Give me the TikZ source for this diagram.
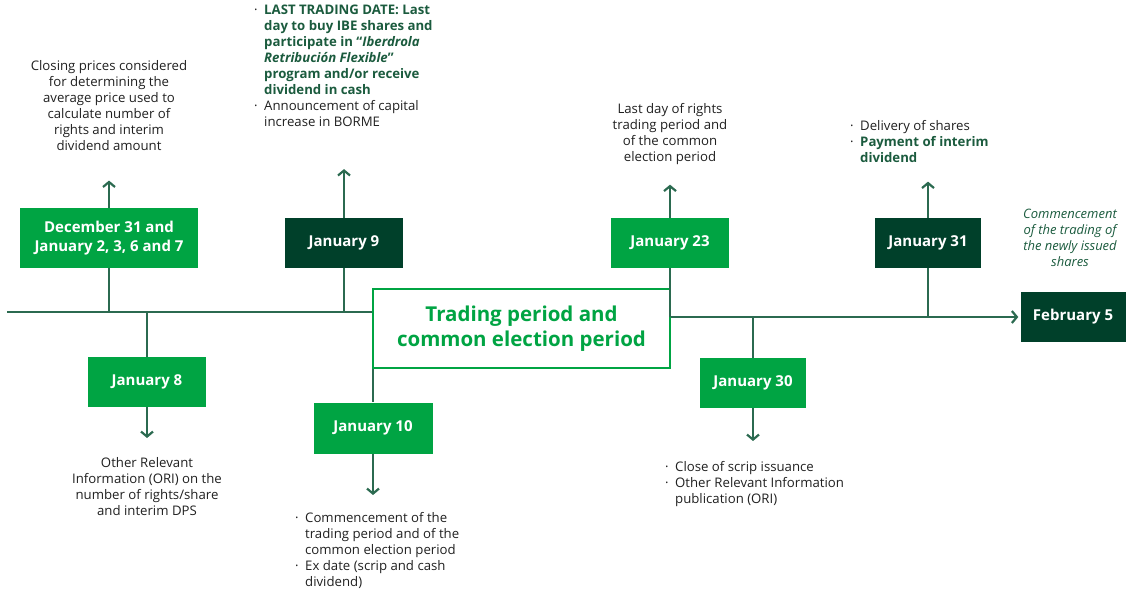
\documentclass[tikz,border=0pt]{standalone}
\usepackage{fontspec}
\setmainfont{Open Sans}
\usepackage{tikz}
\usetikzlibrary{arrows.meta}
\definecolor{ibGreen}{HTML}{00A443}
\definecolor{ibDark}{HTML}{00402A}
\definecolor{ibLine}{HTML}{2B6A50}
\definecolor{ibText}{HTML}{202020}
\definecolor{ibNote}{HTML}{1B5B3E}
\newcommand\bulletmark{\makebox[10pt][l]{\textperiodcentered}}
\newcommand\bulletgap{\hspace*{10pt}}
\newcommand\strongline[1]{{\color{ibNote}\bfseries #1}}

\begin{document}
\begin{tikzpicture}[
  x=1pt,
  y=-1pt,
  datebox/.style={
    fill=ibGreen,
    text=white,
    font=\fontsize{15}{19}\selectfont\bfseries,
    align=center,
    inner sep=0pt,
    minimum height=50pt,
  },
  darkbox/.style={
    datebox,
    fill=ibDark,
  },
  periodbox/.style={
    draw=ibGreen,
    line width=2.6pt,
    fill=white,
    text=ibGreen,
    font=\fontsize{20.5}{25}\selectfont\bfseries,
    align=center,
    minimum width=297pt,
    minimum height=79pt,
  },
  notetext/.style={
    font=\fontsize{13.2}{16}\selectfont,
    text=ibText,
    align=center,
    inner sep=0pt,
    anchor=north,
  },
  listtext/.style={
    notetext,
    align=left,
    anchor=north west,
  },
  branch/.style={
    draw=ibLine,
    line width=1.4pt,
  },
  outarrow/.style={
    branch,
    -{Straight Barb[length=5pt,width=12pt,line width=2.2pt]},
  }
]
\useasboundingbox (0,0) rectangle (1132,593);

% dates
\node[datebox,minimum width=178pt,minimum height=60pt] (dec) at (109,238)
  {December 31 and\\January 2, 3, 6 and 7};
\node[darkbox,minimum width=118pt] (jan9) at (344,243) {January 9};
\node[datebox,minimum width=118pt] (jan23) at (670,243) {January 23};
\node[darkbox,minimum width=106pt] (jan31) at (928,243) {January 31};
\node[darkbox,minimum width=105pt] (feb5) at (1073,317) {February 5};
\node[datebox,minimum width=118pt] (jan8) at (147,382) {January 8};
\node[datebox,minimum width=119pt,minimum height=51pt] (jan10) at (373,428) {January 10};
\node[datebox,minimum width=106pt] (jan30) at (753,383) {January 30};
\node[periodbox] (period) at (521.5,328.5)
  {Trading period and\\common election period};

% notes
\node[notetext] (decnote) at (109,60)
  {Closing prices considered\\for determining the\\average price used to\\calculate number of\\rights and interim\\dividend amount};
\node[listtext] (jan9note) at (254,5)
  {\bulletmark\strongline{LAST TRADING DATE: Last}\\
   \bulletgap\strongline{day to buy IBE shares and}\\
   \bulletgap\strongline{participate in “\textit{Iberdrola}}\\
   \bulletgap\strongline{\textit{Retribución Flexible}”}\\
   \bulletgap\strongline{program and/or receive}\\
   \bulletgap\strongline{dividend in cash}\\
   \bulletmark Announcement of capital\\
   \bulletgap increase in BORME};
\node[notetext] (jan23note) at (670,103)
  {Last day of rights\\trading period and\\of the common\\election period};
\node[listtext] (jan31note) at (850,120)
  {\bulletmark Delivery of shares\\
   \bulletmark\strongline{Payment of interim}\\
   \bulletgap\strongline{dividend}};
\node[notetext,text=ibNote,font=\fontsize{13}{16}\selectfont\itshape] (feb5note) at (1070,209)
  {Commencement\\of the trading of\\the newly issued\\shares};
\node[notetext] (jan8note) at (147,457)
  {Other Relevant\\Information (ORI) on the\\number of rights/share\\and interim DPS};
\node[listtext] (jan10note) at (295,512)
  {\bulletmark Commencement of the\\
   \bulletgap trading period and of the\\
   \bulletgap common election period\\
   \bulletmark Ex date (scrip and cash\\
   \bulletgap dividend)};
\node[listtext] (jan30note) at (665,461)
  {\bulletmark Close of scrip issuance\\
   \bulletmark Other Relevant Information\\
   \bulletgap publication (ORI)};

% timeline
\coordinate (tlstart) at (7,312);
\draw[branch] (tlstart) -- (tlstart -| period.west);
\draw[outarrow,shorten >=2pt] (period.east |- feb5.west) -- (feb5.west);

% branches
\draw[branch] (dec.south) -- (dec.south |- tlstart);
\draw[branch] (jan9.south) -- (jan9.south |- tlstart);
\draw[branch] (jan8.north |- tlstart) -- (jan8.north);
\draw[branch] (jan10.north |- period.south) -- (jan10.north);
\draw[branch] (jan23.south) -- (jan23.south |- feb5.west);
\draw[branch] (jan30.north |- feb5.west) -- (jan30.north);
\draw[branch] (jan31.south) -- (jan31.south |- feb5.west);

% arrows to notes
\draw[outarrow,shorten >=30pt] (dec.north) -- (dec.north |- decnote.south);
\draw[outarrow,shorten >=42pt] (jan9.north) -- (jan9.north |- jan9note.south);
\draw[outarrow,shorten >=20pt] (jan23.north) -- (jan23.south |- jan23note.south);
\draw[outarrow,shorten >=19pt] (jan31.north) -- (jan31.north |- jan31note.south);
\draw[outarrow,shorten >=19pt] (jan8.south) -- (jan8.south |- jan8note.north);
\draw[outarrow,shorten >=17pt] (jan10.south) -- (jan10.south |- jan10note.north);
\draw[outarrow,shorten >=20pt] (jan30.south) -- (jan30.south |- jan30note.north);
\end{tikzpicture}
\end{document}
